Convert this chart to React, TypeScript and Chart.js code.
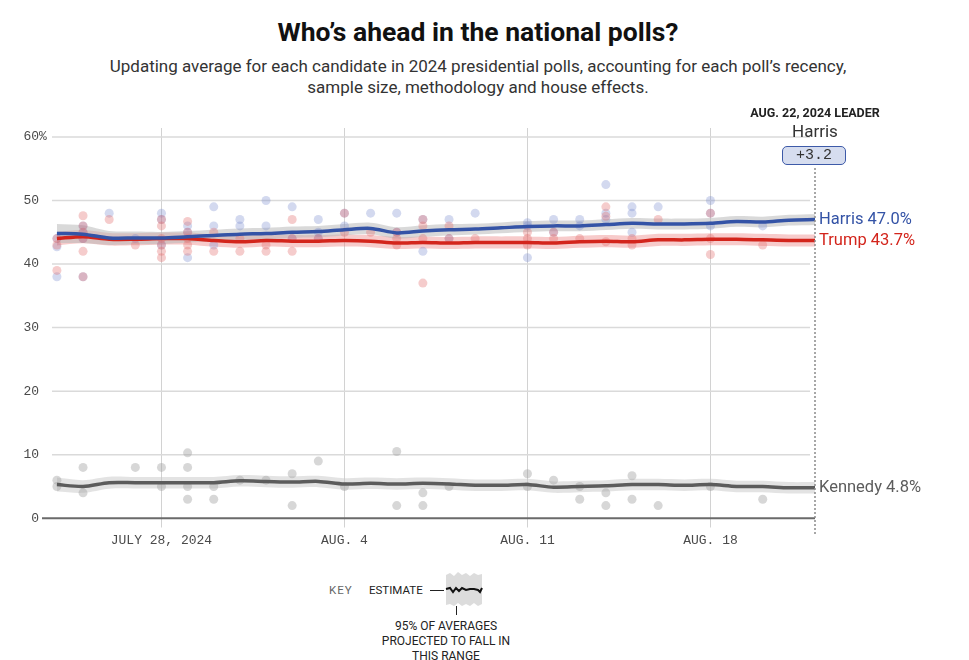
import React, { useEffect, useRef } from "react";
import { Chart, registerables } from "chart.js";
Chart.register(...registerables);

// ---- DATA ----
const dates = [
  "2024-07-24", "2024-07-25", "2024-07-26", "2024-07-27", "2024-07-28", "2024-07-29",
  "2024-07-30", "2024-07-31", "2024-08-01", "2024-08-02", "2024-08-03", "2024-08-04",
  "2024-08-05", "2024-08-06", "2024-08-07", "2024-08-08", "2024-08-09", "2024-08-10",
  "2024-08-11", "2024-08-12", "2024-08-13", "2024-08-14", "2024-08-15", "2024-08-16",
  "2024-08-17", "2024-08-18", "2024-08-19", "2024-08-20", "2024-08-21", "2024-08-22",
];
const xTickDates = ["2024-07-28", "2024-08-04", "2024-08-11", "2024-08-18"];
const xTickLabels = ["JULY 28, 2024", "AUG. 4", "AUG. 11", "AUG. 18"];
const yTicks = [0, 10, 20, 30, 40, 50, 60];

const harrisAvg = [44.8, 44.7, 44.1, 44.1, 44.1, 44.3, 44.5, 44.7, 44.8, 45.0, 45.1, 45.4, 45.6, 44.9, 45.2,
  45.4, 45.5, 45.7, 45.9, 46.0, 46.0, 46.2, 46.4, 46.3, 46.3, 46.4, 46.7, 46.6, 46.9, 47.0];
const trumpAvg = [44.0, 44.3, 43.9, 43.9, 44.0, 44.0, 43.7, 43.5, 43.7, 43.6, 43.6, 43.7, 43.6, 43.3, 43.4,
  43.3, 43.4, 43.4, 43.4, 43.3, 43.5, 43.6, 43.5, 43.8, 43.8, 43.9, 43.9, 43.8, 43.7, 43.7];
const kennedyAvg = [5.3, 5.0, 5.6, 5.6, 5.6, 5.6, 5.6, 5.9, 5.8, 5.7, 5.8, 5.4, 5.5, 5.4, 5.5,
  5.4, 5.2, 5.2, 5.3, 4.9, 5.0, 5.1, 5.3, 5.3, 5.2, 5.3, 5.0, 5.0, 4.8, 4.8];

const harrisBand = [1.5, 1.4, 1.1, 1.0, 0.95, 0.9, 0.9, 0.9, 0.9, 0.9, 0.9, 0.9, 0.9, 0.9, 0.9,
  0.9, 0.85, 0.85, 0.85, 0.85, 0.85, 0.85, 0.85, 0.85, 0.85, 0.85, 0.85, 0.85, 0.85, 0.85];
const trumpBand = [1.1, 1.05, 1.0, 0.95, 0.95, 0.95, 0.95, 0.95, 0.95, 0.95, 0.95, 0.95, 0.95, 0.95, 0.95,
  0.95, 0.95, 0.95, 0.95, 0.95, 0.95, 0.95, 0.95, 0.95, 0.95, 0.95, 0.95, 0.95, 0.95, 0.95];
const kennedyBand = [1.1, 1.0, 0.95, 0.9, 0.9, 0.9, 0.9, 0.9, 0.9, 0.9, 0.9, 0.9, 0.9, 0.9, 0.9,
  0.9, 0.9, 0.9, 0.9, 0.9, 0.9, 0.9, 0.9, 0.9, 0.9, 0.9, 0.9, 0.9, 0.9, 0.9];

// individual polls: [date, value]
const harrisPolls: [string, number][] = [
  ["2024-07-24", 44], ["2024-07-24", 42.7], ["2024-07-24", 38],
  ["2024-07-25", 46], ["2024-07-25", 45], ["2024-07-25", 44], ["2024-07-25", 38],
  ["2024-07-26", 48], ["2024-07-27", 44],
  ["2024-07-28", 48], ["2024-07-28", 47], ["2024-07-28", 43],
  ["2024-07-29", 46], ["2024-07-29", 45], ["2024-07-29", 41],
  ["2024-07-30", 49], ["2024-07-30", 46], ["2024-07-30", 43],
  ["2024-07-31", 47], ["2024-07-31", 46],
  ["2024-08-01", 50], ["2024-08-01", 46],
  ["2024-08-02", 49], ["2024-08-02", 44],
  ["2024-08-03", 47], ["2024-08-03", 45], ["2024-08-03", 44],
  ["2024-08-04", 48], ["2024-08-04", 46],
  ["2024-08-05", 48],
  ["2024-08-06", 48], ["2024-08-06", 45],
  ["2024-08-07", 47], ["2024-08-07", 42],
  ["2024-08-08", 47], ["2024-08-08", 44],
  ["2024-08-09", 48],
  ["2024-08-11", 46.5], ["2024-08-11", 46], ["2024-08-11", 41],
  ["2024-08-12", 47], ["2024-08-12", 45],
  ["2024-08-13", 47], ["2024-08-13", 46],
  ["2024-08-14", 52.5], ["2024-08-14", 48], ["2024-08-14", 47],
  ["2024-08-15", 49], ["2024-08-15", 48], ["2024-08-15", 45],
  ["2024-08-16", 49],
  ["2024-08-18", 50], ["2024-08-18", 48], ["2024-08-18", 46],
  ["2024-08-20", 46],
];
const trumpPolls: [string, number][] = [
  ["2024-07-24", 44], ["2024-07-24", 43], ["2024-07-24", 39],
  ["2024-07-25", 47.6], ["2024-07-25", 46], ["2024-07-25", 45], ["2024-07-25", 44], ["2024-07-25", 42], ["2024-07-25", 38],
  ["2024-07-26", 47], ["2024-07-27", 43],
  ["2024-07-28", 47], ["2024-07-28", 46], ["2024-07-28", 44], ["2024-07-28", 43], ["2024-07-28", 42], ["2024-07-28", 41],
  ["2024-07-29", 46.7], ["2024-07-29", 45], ["2024-07-29", 44], ["2024-07-29", 43], ["2024-07-29", 42],
  ["2024-07-30", 45], ["2024-07-30", 42],
  ["2024-07-31", 44], ["2024-07-31", 42],
  ["2024-08-01", 43], ["2024-08-01", 42],
  ["2024-08-02", 47], ["2024-08-02", 44], ["2024-08-02", 42],
  ["2024-08-03", 44],
  ["2024-08-04", 48], ["2024-08-04", 45],
  ["2024-08-05", 45],
  ["2024-08-06", 45], ["2024-08-06", 44], ["2024-08-06", 43],
  ["2024-08-07", 47], ["2024-08-07", 46], ["2024-08-07", 44], ["2024-08-07", 37],
  ["2024-08-08", 46], ["2024-08-08", 44],
  ["2024-08-09", 44],
  ["2024-08-11", 45], ["2024-08-11", 44], ["2024-08-11", 43],
  ["2024-08-12", 45], ["2024-08-12", 44],
  ["2024-08-13", 44],
  ["2024-08-14", 49], ["2024-08-14", 47.5], ["2024-08-14", 43.5],
  ["2024-08-15", 44], ["2024-08-15", 43],
  ["2024-08-16", 47],
  ["2024-08-18", 48], ["2024-08-18", 44], ["2024-08-18", 41.5],
  ["2024-08-20", 43],
];
const kennedyPolls: [string, number][] = [
  ["2024-07-24", 6], ["2024-07-24", 5],
  ["2024-07-25", 8], ["2024-07-25", 4],
  ["2024-07-27", 8],
  ["2024-07-28", 8], ["2024-07-28", 5],
  ["2024-07-29", 10.3], ["2024-07-29", 8], ["2024-07-29", 5], ["2024-07-29", 3],
  ["2024-07-30", 5], ["2024-07-30", 3],
  ["2024-07-31", 6], ["2024-08-01", 6],
  ["2024-08-02", 7], ["2024-08-02", 2],
  ["2024-08-03", 9], ["2024-08-04", 5],
  ["2024-08-06", 10.5], ["2024-08-06", 2],
  ["2024-08-07", 4], ["2024-08-07", 2],
  ["2024-08-08", 5],
  ["2024-08-11", 7], ["2024-08-11", 5],
  ["2024-08-12", 6],
  ["2024-08-13", 5], ["2024-08-13", 3],
  ["2024-08-14", 4], ["2024-08-14", 2],
  ["2024-08-15", 6.7], ["2024-08-15", 3],
  ["2024-08-16", 2],
  ["2024-08-18", 5],
  ["2024-08-20", 3],
];

const leaderDate = "AUG. 22, 2024 LEADER";
const leaderName = "Harris";
const leaderMargin = "+3.2";

// ---- COLORS ----
const HARRIS = "#3453a6";
const TRUMP = "#d3251c";
const KENNEDY = "#5c5c5c";

const idx = (d: string) => dates.indexOf(d);
const series = (vals: number[]) => vals.map((v, i) => ({ x: i, y: v }));
const polls = (p: [string, number][]) => p.map(([d, v]) => ({ x: idx(d), y: v }));

const MONO = "'Liberation Mono', 'DejaVu Sans Mono', monospace";
const SANS = "Roboto, 'Noto Sans', Arial, sans-serif";

const decor = {
  id: "decor",
  beforeDatasetsDraw(chart: any) {
    const { ctx, chartArea, scales } = chart;
    const x = scales.x, y = scales.y;
    ctx.save();
    ctx.strokeStyle = "#d2d2d2";
    ctx.lineWidth = 1;
    xTickDates.forEach((d) => {
      const px = Math.round(x.getPixelForValue(idx(d))) + 0.5;
      ctx.beginPath();
      ctx.moveTo(px, chartArea.top);
      ctx.lineTo(px, chartArea.bottom);
      ctx.stroke();
    });
    ctx.strokeStyle = "#dadada";
    ctx.lineWidth = 1.5;
    yTicks.filter((t) => t > 0).forEach((t) => {
      const py = y.getPixelForValue(t);
      ctx.beginPath();
      ctx.moveTo(chartArea.left + 10, py);
      ctx.lineTo(chartArea.right - 5, py);
      ctx.stroke();
    });
    ctx.restore();
  },
  afterDatasetsDraw(chart: any) {
    const { ctx, chartArea, scales } = chart;
    const x = scales.x, y = scales.y;
    ctx.save();
    // zero line
    const y0 = y.getPixelForValue(0);
    ctx.strokeStyle = "#6a6a6a";
    ctx.lineWidth = 2;
    ctx.beginPath();
    ctx.moveTo(chartArea.left, y0);
    ctx.lineTo(chartArea.right, y0);
    ctx.stroke();
    // dotted "today" line
    const xe = x.getPixelForValue(dates.length - 1);
    ctx.strokeStyle = "#8a8a8a";
    ctx.lineWidth = 1.5;
    ctx.setLineDash([2, 2]);
    ctx.beginPath();
    ctx.moveTo(xe, chartArea.top + 40);
    ctx.lineTo(xe, chartArea.bottom + 8);
    ctx.stroke();
    ctx.setLineDash([]);
    // y labels
    ctx.fillStyle = "#4a4a4a";
    ctx.font = `13px ${MONO}`;
    ctx.textBaseline = "middle";
    yTicks.forEach((t, i) => {
      const py = y.getPixelForValue(t);
      ctx.textAlign = "right";
      ctx.fillText(String(t), chartArea.left - 3, py);
      if (i === yTicks.length - 1) {
        ctx.textAlign = "left";
        ctx.fillText("%", chartArea.left - 3, py);
      }
    });
    // x labels
    ctx.textAlign = "center";
    xTickDates.forEach((d, i) => {
      ctx.fillText(xTickLabels[i], x.getPixelForValue(idx(d)), chartArea.bottom + 13);
    });
    // end labels
    ctx.font = `16.5px ${SANS}`;
    ctx.textAlign = "left";
    const last = dates.length - 1;
    const ends: [string, number, string][] = [
      ["Harris", harrisAvg[last], HARRIS],
      ["Trump", trumpAvg[last], TRUMP],
      ["Kennedy", kennedyAvg[last], KENNEDY],
    ];
    ends.forEach(([n, v, c]) => {
      ctx.fillStyle = c;
      ctx.fillText(`${n} ${v.toFixed(1)}%`, xe + 4, y.getPixelForValue(v));
    });
    ctx.restore();
  },
};

export default function App() {
  const ref = useRef<HTMLCanvasElement | null>(null);
  useEffect(() => {
    if (!ref.current) return;
    const band = (vals: number[], m: number[], sign: number) =>
      vals.map((v, i) => ({ x: i, y: v + sign * m[i] }));
    const bandSet = (vals: number[], m: number[], color: string) => [
      { data: band(vals, m, 1), borderWidth: 0, pointRadius: 0, fill: false, tension: 0.3, order: 20 },
      { data: band(vals, m, -1), borderWidth: 0, pointRadius: 0, fill: "-1", backgroundColor: color, tension: 0.3, order: 20 },
    ];
    const pointSet = (data: any[], color: string) => ({
      data, showLine: false, pointRadius: 4.5, pointBorderWidth: 0,
      pointBackgroundColor: color, backgroundColor: color, borderColor: color, order: 10,
    });
    const lineSet = (vals: number[], color: string, order: number) => ({
      data: series(vals), borderColor: color, borderWidth: 3.5, pointRadius: 0,
      tension: 0.3, fill: false, order,
    });
    const chart = new Chart(ref.current, {
      type: "line",
      data: {
        datasets: [
          ...bandSet(harrisAvg, harrisBand, "rgba(185,185,185,0.55)"),
          ...bandSet(trumpAvg, trumpBand, "rgba(235,130,130,0.42)"),
          ...bandSet(kennedyAvg, kennedyBand, "rgba(200,200,200,0.5)"),
          pointSet(polls(kennedyPolls), "rgba(160,160,160,0.42)"),
          pointSet(polls(trumpPolls), "rgba(225,110,110,0.35)"),
          pointSet(polls(harrisPolls), "rgba(120,140,205,0.33)"),
          lineSet(kennedyAvg, KENNEDY, 3),
          lineSet(trumpAvg, TRUMP, 2),
          lineSet(harrisAvg, HARRIS, 1),
        ] as any,
      },
      options: {
        animation: false,
        responsive: false,
        maintainAspectRatio: false,
        layout: { padding: { left: 42, right: 154, top: 28, bottom: 32.5 } },
        scales: {
          x: { type: "linear", min: -0.57, max: dates.length - 1, display: false },
          y: { min: -1.45, max: 61.4, display: false },
        },
        plugins: { legend: { display: false }, tooltip: { enabled: false } },
      } as any,
      plugins: [decor],
    });
    return () => chart.destroy();
  }, []);

  const abs = (s: React.CSSProperties): React.CSSProperties => ({ position: "absolute", ...s });
  return (
    <div style={abs({ left: 0, top: 0, width: 969, height: 660, background: "#fff", fontFamily: SANS, color: "#222" })}>
      <div style={abs({ left: 0, top: 17, width: 956, textAlign: "center", fontSize: 26.5, fontWeight: 700, lineHeight: "30px", color: "#111" })}>
        Who’s ahead in the national polls?
      </div>
      <div style={abs({ left: 0, top: 56, width: 956, textAlign: "center", fontSize: 17, lineHeight: "21px", color: "#333" })}>
        Updating average for each candidate in 2024 presidential polls, accounting for each poll’s recency,
        <br />
        sample size, methodology and house effects.
      </div>
      <canvas ref={ref} width={969} height={460} style={abs({ left: 0, top: 100 })} />
      <div style={abs({ left: 715, top: 105, width: 200, textAlign: "center", fontSize: 12.5, fontWeight: 700, lineHeight: "16px", color: "#222" })}>
        {leaderDate}
      </div>
      <div style={abs({ left: 715, top: 121, width: 200, textAlign: "center", fontSize: 17, lineHeight: "20px", color: "#333" })}>
        {leaderName}
      </div>
      <div style={abs({ left: 782, top: 146, width: 62, height: 17, border: "1.5px solid #3d5aa8", borderRadius: 5, background: "#d6ddef", textAlign: "center", fontFamily: MONO, fontSize: 15, lineHeight: "18px", color: "#333" })}>
        {leaderMargin}
      </div>
      {/* key */}
      <div style={abs({ left: 329, top: 583, fontSize: 11.5, letterSpacing: 1, color: "#666", lineHeight: "14px" })}>KEY</div>
      <div style={abs({ left: 369, top: 583, fontSize: 11.5, color: "#222", lineHeight: "14px" })}>ESTIMATE</div>
      <div style={abs({ left: 430, top: 590, width: 14, height: 1, background: "#222" })} />
      <svg width={40} height={36} style={abs({ left: 444, top: 571 })}>
        <polygon
          points="2,4 6,2 10,5 14,1 18,4 22,2 26,5 30,2 34,4 38,3 38,33 34,35 30,32 26,35 22,33 18,35 14,32 10,35 6,33 2,34"
          fill="#dcdcdc"
        />
        <polyline points="2,18 6,17 9,21 12,17 15,20 18,17 22,19 26,18 30,18 34,19 36,21 38,17" fill="none" stroke="#111" strokeWidth={2} />
      </svg>
      <div style={abs({ left: 456, top: 606, width: 1, height: 9, background: "#222" })} />
      <div style={abs({ left: 346, top: 619, width: 200, textAlign: "center", fontSize: 12, lineHeight: "15px", color: "#222" })}>
        95% OF AVERAGES
        <br />
        PROJECTED TO FALL IN
        <br />
        THIS RANGE
      </div>
    </div>
  );
}
